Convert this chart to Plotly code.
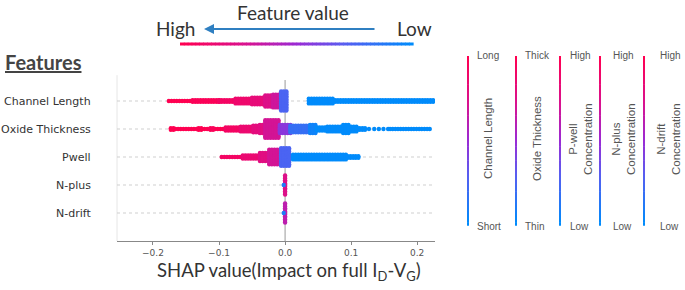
import numpy as np
import plotly.graph_objects as go
from plotly.colors import sample_colorscale

# ---------------- data ----------------
features = ["Channel Length", "Oxide Thickness", "Pwell", "N-plus", "N-drift"]
x_ticks = [-0.2, -0.1, 0.0, 0.1, 0.2]
x_tick_labels = ["\u22120.2", "\u22120.1", "0.0", "0.1", "0.2"]

# beeswarm density:
# (shap_start, shap_end, dots stacked per column, normalised feature value 0=low 1=high)
channel_length = [
    (-0.176, -0.140, 1, 1.00), (-0.140, -0.100, 2, 0.97), (-0.100, -0.075, 2, 0.92),
    (-0.075, -0.050, 4, 0.88), (-0.050, -0.030, 5, 0.82), (-0.030, -0.018, 8, 0.75),
    (-0.018, -0.008, 9, 0.68), (-0.006, 0.003, 13, 0.25),
    (0.036, 0.072, 4, 0.00), (0.072, 0.227, 2, 0.00),
]
oxide_thickness = [
    (-0.173, -0.166, 2, 1.00), (-0.166, -0.090, 1, 1.00), (-0.131, -0.127, 2, 1.00),
    (-0.113, -0.109, 2, 0.96), (-0.090, -0.067, 3, 0.92), (-0.067, -0.048, 4, 0.86),
    (-0.048, -0.038, 5, 0.80), (-0.038, -0.030, 6, 0.78), (-0.030, -0.008, 12, 0.70),
    (-0.008, 0.008, 6, 0.45), (0.008, 0.038, 5, 0.18), (0.038, 0.048, 6, 0.05),
    (0.048, 0.064, 3, 0.00), (0.064, 0.109, 4, 0.00), (0.088, 0.098, 6, 0.00),
    (0.109, 0.124, 2, 0.00),
    (0.127, 0.127, 1, 0.00), (0.135, 0.135, 1, 0.00), (0.142, 0.142, 1, 0.00),
    (0.149, 0.149, 1, 0.00), (0.156, 0.156, 1, 0.00),
    (0.159, 0.222, 1, 0.00),
]
pwell = [
    (-0.096, -0.064, 1, 0.92), (-0.064, -0.038, 3, 0.85), (-0.038, -0.024, 6, 0.78),
    (-0.024, -0.008, 10, 0.70), (-0.006, 0.006, 12, 0.25),
    (0.012, 0.095, 4, 0.00), (0.095, 0.114, 2, 0.00),
]
n_plus = [(0.0, 0.0, 13, 0.75), (-0.002, -0.002, 1, 0.10)]
n_drift = [(0.0, 0.0, 13, 0.62), (-0.002, -0.002, 1, 0.10)]
segments = [channel_length, oxide_thickness, pwell, n_plus, n_drift]

legend_names = ["Channel Length", "Oxide Thickness", "P-well<br>Concentration",
                "N-plus<br>Concentration", "N-drift<br>Concentration"]
legend_high = ["Long", "Thick", "High", "High", "High"]
legend_low = ["Short", "Thin", "Low", "Low", "Low"]

# ---------------- styling / geometry ----------------
SCALE = [[0.0, "#008bfb"], [0.3, "#5a5cf0"], [0.5, "#9b2ad4"], [0.72, "#d9128f"], [1.0, "#ff0051"]]
W_PX, H_PX = 685, 290
L, R, T, B = 117, 435, 80, 241
XMIN, XMAX = -0.2545, 0.227
PX_PER_ROW = 28.0
DX = 0.004
DY_PX = 1.6


def px2x(px):
    return (px - L) / (R - L)


def py2y(py):
    return (B - py) / (B - T)


fig = go.Figure()

for i, segs in enumerate(segments):
    row = 4 - i
    xs, ys, cs = [], [], []
    for x0, x1, n, v in segs:
        cols = np.arange(x0, x1 + 1e-9, DX) if x1 > x0 else [x0]
        offs = (np.arange(n) - (n - 1) / 2.0) * DY_PX / PX_PER_ROW
        for x in cols:
            for o in offs:
                xs.append(x)
                ys.append(row + o)
                cs.append(v)
    fig.add_trace(go.Scatter(
        x=xs, y=ys, mode="markers", hoverinfo="skip", showlegend=False,
        marker=dict(size=4.4, color=cs, colorscale=SCALE, cmin=0, cmax=1, line=dict(width=0)),
    ))

shapes = []
annotations = []

# dotted row guides
for i in range(len(features)):
    shapes.append(dict(type="line", xref="x", yref="y", x0=XMIN, x1=XMAX, y0=4 - i, y1=4 - i,
                       line=dict(color="#cfcfcf", width=1, dash="dot"), layer="below"))
    annotations.append(dict(xref="paper", yref="y", x=px2x(93), y=4 - i, xanchor="right",
                            yanchor="middle", text=features[i], showarrow=False,
                            font=dict(family="DejaVu Sans", size=11, color="#333")))

# zero line and faint left spine
shapes.append(dict(type="line", xref="x", yref="paper", x0=0, x1=0, y0=0, y1=1,
                   line=dict(color="#999", width=1), layer="below"))
shapes.append(dict(type="line", xref="paper", yref="paper", x0=0, x1=0, y0=0, y1=1.03,
                   line=dict(color="#e6e6e6", width=1), layer="below"))

# header: horizontal gradient bar
NSEG = 60
hx0, hx1, hy = 180, 413, 44
cols_h = sample_colorscale(SCALE, list(np.linspace(1, 0, NSEG)))
for k in range(NSEG):
    a = hx0 + (hx1 - hx0) * k / NSEG
    b = hx0 + (hx1 - hx0) * (k + 1) / NSEG
    shapes.append(dict(type="line", xref="paper", yref="paper", x0=px2x(a), x1=px2x(b) + 0.002,
                       y0=py2y(hy), y1=py2y(hy), line=dict(color=cols_h[k], width=3)))

annotations.append(dict(xref="paper", yref="paper", x=px2x(293), y=py2y(12), text="Feature value",
                        showarrow=False, xanchor="center", yanchor="middle",
                        font=dict(family="Lato", size=19, color="#333")))
annotations.append(dict(xref="paper", yref="paper", x=px2x(175), y=py2y(28), text="High",
                        showarrow=False, xanchor="center", yanchor="middle",
                        font=dict(family="Lato", size=19, color="#333")))
annotations.append(dict(xref="paper", yref="paper", x=px2x(414), y=py2y(28), text="Low",
                        showarrow=False, xanchor="center", yanchor="middle",
                        font=dict(family="Lato", size=19, color="#333")))
annotations.append(dict(xref="paper", yref="paper", x=px2x(204), y=py2y(29), ax=172, ay=0,
                        text="", showarrow=True, arrowhead=2, arrowsize=1, arrowwidth=2,
                        arrowcolor="#2f7fc1"))
annotations.append(dict(xref="paper", yref="paper", x=px2x(3), y=py2y(62), text="<b><u>Features</u></b>",
                        showarrow=False, xanchor="left", yanchor="middle",
                        font=dict(family="Lato", size=20, color="#444")))

# x axis title
annotations.append(dict(xref="paper", yref="paper", x=px2x(289), y=py2y(271),
                        text="SHAP value(Impact on full I<sub>D</sub>-V<sub>G</sub>)",
                        showarrow=False, xanchor="center", yanchor="middle",
                        font=dict(family="Lato", size=18.5, color="#333")))

# right-hand legend: vertical gradient lines
line_x = [468, 516, 560, 600, 644]
top_lbl_x = [475, 523, 568, 611, 658]
name_x = [488, 537, 580, 623, 668]
vy0, vy1 = 56, 225
cols_v = sample_colorscale(SCALE, list(np.linspace(1, 0, NSEG)))
for j, lx in enumerate(line_x):
    for k in range(NSEG):
        a = vy0 + (vy1 - vy0) * k / NSEG
        b = vy0 + (vy1 - vy0) * (k + 1) / NSEG
        shapes.append(dict(type="line", xref="paper", yref="paper", x0=px2x(lx), x1=px2x(lx),
                           y0=py2y(a), y1=py2y(b) - 0.004, line=dict(color=cols_v[k], width=2)))
    annotations.append(dict(xref="paper", yref="paper", x=px2x(top_lbl_x[j]), y=py2y(56),
                            text=legend_high[j], showarrow=False, xanchor="left", yanchor="middle",
                            font=dict(family="Liberation Sans", size=10, color="#555")))
    annotations.append(dict(xref="paper", yref="paper", x=px2x(top_lbl_x[j]), y=py2y(226),
                            text=legend_low[j], showarrow=False, xanchor="left", yanchor="middle",
                            font=dict(family="Liberation Sans", size=10, color="#555")))
    annotations.append(dict(xref="paper", yref="paper", x=px2x(name_x[j]), y=py2y(139),
                            text=legend_names[j], showarrow=False, xanchor="center", yanchor="middle",
                            textangle=-90, align="center",
                            font=dict(family="Liberation Sans", size=11.5, color="#555")))

fig.update_layout(
    width=W_PX, height=H_PX,
    margin=dict(l=L, r=W_PX - R, t=T, b=H_PX - B, pad=0),
    paper_bgcolor="white", plot_bgcolor="white",
    showlegend=False,
    shapes=shapes, annotations=annotations,
    xaxis=dict(range=[XMIN, XMAX], tickvals=x_ticks, ticktext=x_tick_labels,
               showgrid=False, zeroline=False, showline=True, linecolor="#888", linewidth=1,
               ticks="outside", ticklen=3, tickcolor="#888",
               tickfont=dict(family="DejaVu Sans", size=9, color="#555")),
    yaxis=dict(range=[-1, 4.75], showgrid=False, zeroline=False, showticklabels=False,
               showline=False, ticks=""),
)

fig.write_html("out.html", config={"displayModeBar": False},
               post_script="document.body.style.margin='0';document.body.style.overflow='hidden';")
